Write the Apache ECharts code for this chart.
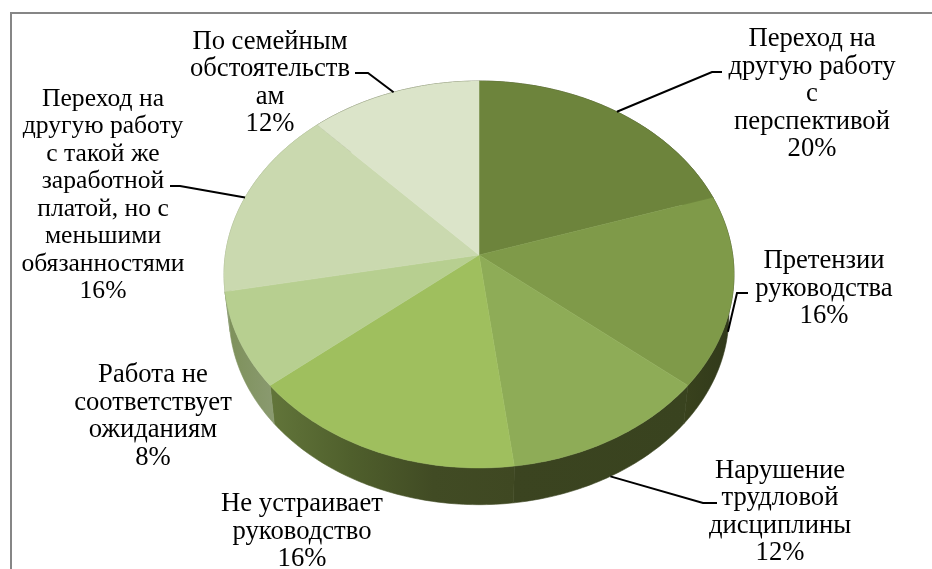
<!DOCTYPE html>
<html>
<head>
<meta charset="utf-8">
<style>html,body{margin:0;padding:0;background:#fff}#chart{width:932px;height:569px}</style>
<script src="https://cdn.jsdelivr.net/npm/echarts@6/dist/echarts.min.js"></script>
</head>
<body>
<div id="chart"></div>
<script>
// Причины увольнения, доли в процентах
const categories = [
  'Переход на\nдругую работу\nс\nперспективой',
  'Претензии\nруководства',
  'Нарушение\nтрудловой\nдисциплины',
  'Не устраивает\nруководство',
  'Работа не\nсоответствует\nожиданиям',
  'Переход на\nдругую работу\nс такой же\nзаработной\nплатой, но с\nменьшими\nобязанностями',
  'По семейным\nобстоятельств\nам'
];
const shares = [20, 16, 12, 16, 8, 16, 12];

const topColors = ['#6d843c', '#7f9a49', '#8eac57', '#9fbf5e', '#b7cf90', '#cad9af', '#dbe4c9'];
// Цвета боковой стенки: слева направо внутри каждого сегмента
const sideColors = [
  ['#3a421d', '#3a421d'], ['#39421d', '#30381a'], ['#3b4420', '#39431f'], ['#62753a', '#4f5f2c', '#414b24', '#3f4822'],
  ['#7d9059', '#8a9a70'], ['#8f9f78', '#8f9f78'], ['#3a421d', '#3a421d']
];
// Расположение подписей: центр текста, кегль, излом выноски, конец выноски
const labelCenters = [[812, 94], [824, 288.5], [780, 512], [302, 531.5], [153, 416.5], [103, 195.5], [270, 83]];
const labelSizes = [26.67, 26.67, 26.67, 26.67, 26.67, 25.6, 26.67];
const leaderElbows = [[712, 72], [737, 293], [703, 503], null, null, [180, 186], [368, 73]];
const leaderEnds = [[722, 72], [748, 293], [717, 503], null, null, [170, 186], [355, 73]];
const leaderOnBase = [false, true, true, false, false, false, false];

const CX = 479, CY = 255, A = 253.7, B = 191.5, K = 0.1007;
const BASE_SCALE = 0.98, BASE_DROP = 41;
const total = shares.reduce((s, v) => s + v, 0);
const starts = shares.reduce((acc, v, i) => { acc.push(i ? acc[i - 1] + shares[i - 1] : 0); return acc; }, []);

// Наклонённый круг: проекция точки окружности на экран (угол от вершины по часовой стрелке)
function rim(theta) {
  const d = 1 + K * Math.cos(theta);
  return [A * Math.sin(theta) / d, -B * Math.cos(theta) / d];
}
const topPt = (theta) => { const p = rim(theta); return [CX + p[0], CY + p[1]]; };
const basePt = (theta) => { const p = rim(theta); return [CX + p[0] * BASE_SCALE, CY + p[1] * BASE_SCALE + BASE_DROP]; };
const angleOf = (share) => share / total * Math.PI * 2;

function arc(fn, a, b) {
  const n = Math.max(2, Math.ceil((b - a) * 60));
  const pts = [];
  for (let i = 0; i <= n; i++) pts.push(fn(a + (b - a) * i / n));
  return pts;
}

const chart = echarts.init(document.getElementById('chart'), null, { renderer: 'canvas' });
const seriesData = shares.map((v, i) => [v, i]);

chart.setOption({
  backgroundColor: '#fff',
  animation: false,
  xAxis: { show: false }, yAxis: { show: false },
  graphic: [{
    type: 'polyline', silent: true,
    shape: { points: [[11, 569], [11, 13], [932, 13]] },
    style: { stroke: '#868686', lineWidth: 2, fill: null }
  }],
  series: [
    {
      type: 'custom', coordinateSystem: 'none', data: seriesData, z: 1, silent: true,
      renderItem(params, api) {
        const i = api.value(1);
        const a = angleOf(starts[i]), b = a + angleOf(api.value(0));
        const upper = arc(topPt, a, b), lower = arc(basePt, a, b).reverse();
        const xs = upper.concat(lower).map(p => p[0]);
        const stops = sideColors[i].map((color, k, all) => ({ offset: k / (all.length - 1), color }));
        const grad = new echarts.graphic.LinearGradient(Math.min(...xs), 0, Math.max(...xs), 0, stops, true);
        return {
          type: 'polygon',
          shape: { points: upper.concat(lower) },
          style: { fill: grad, stroke: grad, lineWidth: 0.6 }
        };
      }
    },
    {
      type: 'custom', coordinateSystem: 'none', data: seriesData, z: 2, silent: true,
      renderItem(params, api) {
        const i = api.value(1);
        const a = angleOf(starts[i]), b = a + angleOf(api.value(0));
        return {
          type: 'polygon',
          shape: { points: [[CX, CY]].concat(arc(topPt, a, b)) },
          style: { fill: topColors[i], stroke: topColors[i], lineWidth: 0.5 }
        };
      }
    },
    {
      type: 'custom', coordinateSystem: 'none', data: seriesData, z: 3, silent: true,
      renderItem(params, api) {
        const i = api.value(1);
        const mid = angleOf(starts[i] + api.value(0) / 2);
        const children = [{
          type: 'text',
          style: {
            x: labelCenters[i][0], y: labelCenters[i][1],
            text: categories[i] + '\n' + api.value(0) + '%',
            font: labelSizes[i] + 'px "Liberation Serif"', lineHeight: 27.5,
            fill: '#000', align: 'center', verticalAlign: 'middle'
          }
        }];
        if (leaderElbows[i]) {
          const anchor = leaderOnBase[i] ? basePt(mid) : topPt(mid);
          children.push({
            type: 'polyline',
            shape: { points: [anchor, leaderElbows[i], leaderEnds[i]] },
            style: { stroke: '#000', lineWidth: 2, fill: null }
          });
        }
        return { type: 'group', children };
      }
    }
  ]
});
</script>
</body>
</html>
